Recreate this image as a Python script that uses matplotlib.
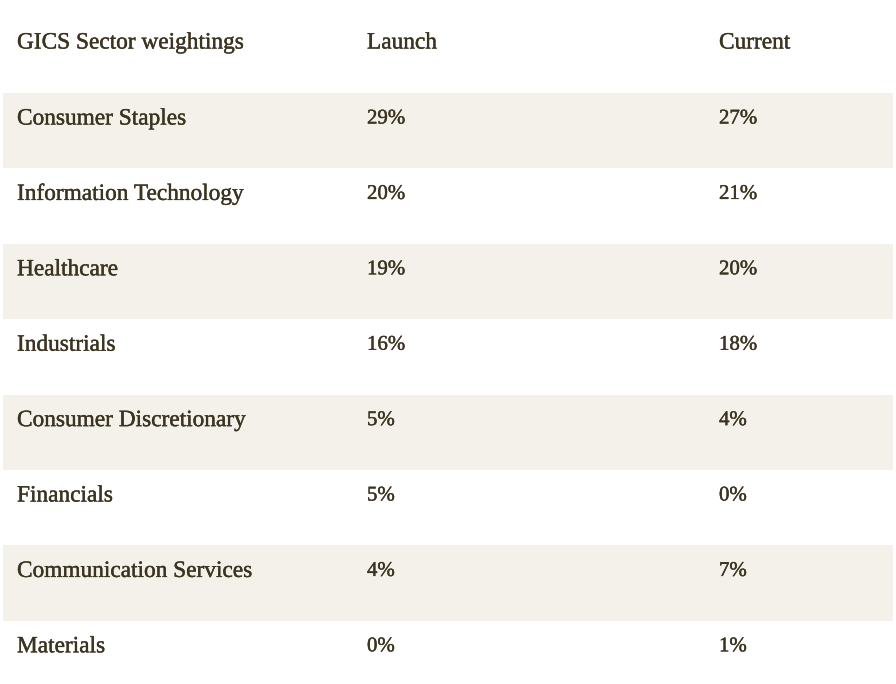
import matplotlib.pyplot as plt
import matplotlib.patheffects as pe
from matplotlib.patches import Rectangle

sectors = ["Consumer Staples", "Information Technology", "Healthcare", "Industrials",
           "Consumer Discretionary", "Financials", "Communication Services", "Materials"]
launch = [29, 20, 19, 16, 5, 5, 4, 0]
current = [27, 21, 20, 18, 4, 0, 7, 1]
headers = ["GICS Sector weightings", "Launch", "Current"]

text_color = "#3b3421"
band_color = "#f4f1ea"

fig = plt.figure(figsize=(8.96, 6.84), dpi=100)
ax = fig.add_axes([0, 0, 1, 1])
ax.set_xlim(0, 896)
ax.set_ylim(684, 0)
ax.axis("off")

col_x = [17, 367, 719]
top = 93
row_h = 75.4

thick = [pe.withStroke(linewidth=0.3, foreground=text_color)]
font = dict(family="Liberation Serif", fontsize=16.8, color=text_color, va="center",
            path_effects=thick)
num_font = dict(font, fontsize=15)

for x, h in zip(col_x, headers):
    ax.text(x, 43, h, **font)

for i, (s, l, c) in enumerate(zip(sectors, launch, current)):
    y0 = top + i * row_h
    if i % 2 == 0:
        ax.add_patch(Rectangle((3, y0), 890, row_h, color=band_color, lw=0))
    ty = y0 + 26
    ax.text(col_x[0], ty, s, **font)
    ax.text(col_x[1], ty, f"{l}%", **num_font)
    ax.text(col_x[2], ty, f"{c}%", **num_font)

fig.savefig("out.png", dpi=100)
